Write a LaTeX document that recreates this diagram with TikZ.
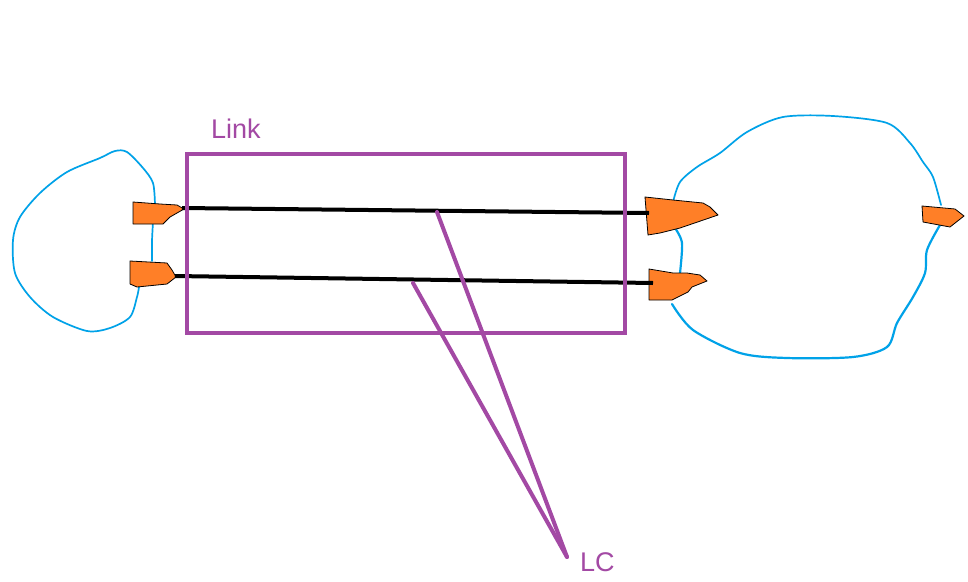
\documentclass[tikz,border=0pt]{standalone}
\usepackage{fontspec}
\setmainfont{Liberation Sans}
\definecolor{pblue}{HTML}{00A2E8}
\definecolor{porange}{HTML}{FF7F27}
\definecolor{ppurple}{HTML}{A349A4}
\begin{document}
\begin{tikzpicture}[x=1pt,y=-1pt,
  loopline/.style={draw=pblue,line width=1.7pt,line join=round,line cap=round},
  port/.style={fill=porange,draw=black,line width=0.8pt,line join=round},
  wire/.style={draw=black,line width=4pt},
  purp/.style={draw=ppurple,line width=4pt},
  lbl/.style={text=ppurple,font=\fontsize{27}{30}\selectfont,inner sep=0pt}]
\useasboundingbox (0,0) rectangle (968,581);
\fill[white] (0,0) rectangle (968,581);
% blue loops
\draw[loopline] plot[smooth,tension=0.5] coordinates {(155,205) (153,183) (143,168) (127,152) (115,151) (100,158) (67,172) (40,193) (20,217) (13,240) (15,273) (30,297) (53,317) (87,331) (110,328) (130,317) (137,297) (139,287)};
\draw[loopline] plot[smooth] coordinates {(153,222) (152,241) (152,261)};
\draw[loopline] plot[smooth,tension=0.5] coordinates {(673,202) (680,182) (697,167) (720,153) (747,132) (783,117) (833,116) (887,123) (910,143) (923,162) (933,177) (941,205)};
\draw[loopline,line width=2.2pt] plot[smooth,tension=0.5] coordinates {(940,225) (927,250) (925,273) (913,297) (897,323) (887,347) (853,357) (787,358) (740,353) (693,330) (672,304)};
\draw[loopline,line width=2.2pt] plot[smooth] coordinates {(675,228) (682,243) (680,273)};
% orange ports
\draw[port] (133,202) -- (160,204) -- (177,205) -- (184,209) -- (170,217) -- (163,224) -- (133,224) -- cycle;
\draw[port] (130,261) -- (167,263) -- (172,270) -- (176,277) -- (167,284) -- (137,287) -- (130,284) -- cycle;
\draw[port] (645,197) -- (673,200) -- (703,203) -- (710,207) -- (718,215) -- (680,228) -- (660,233) -- (648,235) -- cycle;
\draw[port] (649,269) -- (673,273) -- (687,273) -- (700,275) -- (707,281) -- (692,287) -- (688,292) -- (672,300) -- (649,300) -- cycle;
\draw[port] (922,206) -- (955,209) -- (964,216) -- (950,227) -- (923,222) -- cycle;
% named wire endpoints
\coordinate (la) at (182,208);
\coordinate (ra) at (649,213);
\coordinate (lb) at (175,276);
\coordinate (rb) at (653,283);
\draw[wire] (la) -- (ra);
\draw[wire] (lb) -- (rb);
% link box
\node[draw=ppurple,line width=4pt,minimum width=438pt,minimum height=179pt,inner sep=0pt] (box) at (406,243.5) {};
\node[lbl,anchor=base west] (link) at (211,138) {Link};
% LC
\node[lbl,anchor=base west] (lc) at (580,571) {LC};
\coordinate (lcpt) at (567,557);
\coordinate (pa) at (437,212);
\coordinate (pb) at (413,283);
\draw[purp,line cap=round] (pa) -- (lcpt);
\draw[purp,line cap=round] (pb) -- (lcpt);
\end{tikzpicture}
\end{document}
